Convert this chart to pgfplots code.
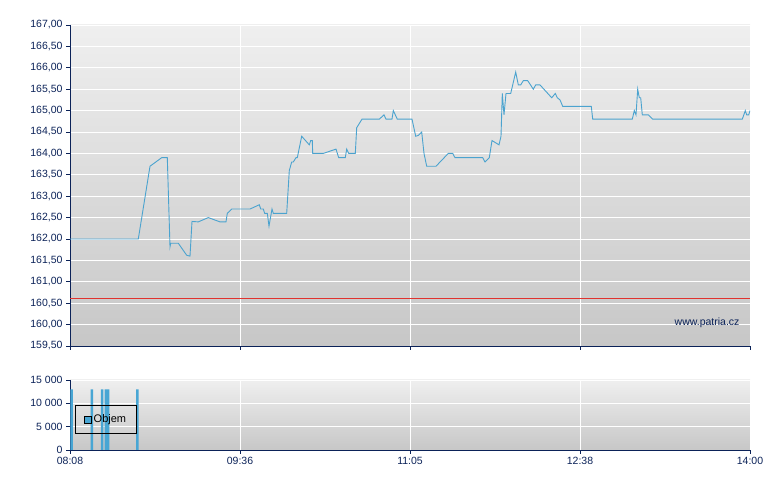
\documentclass[border=0pt]{standalone}
\usepackage{fontspec}
\setmainfont{Liberation Sans}
\usepackage{pgfplots}
\pgfplotsset{compat=1.18}
\definecolor{navy}{HTML}{0B2258}
\definecolor{lineblue}{HTML}{4BA3CF}
\definecolor{barblue}{HTML}{48A6D4}
\definecolor{refred}{HTML}{E0332F}
\definecolor{bgtop}{HTML}{EFEFEF}
\definecolor{bgbot}{HTML}{C7C7C7}

\begin{document}
\begin{tikzpicture}
\path (0pt,0pt) rectangle (780pt,490pt);
\pgfplotsset{
  chartbase/.style={
    scale only axis, width=680pt, xmin=0, xmax=680,
    axis lines*=left,
    axis line style={navy, line width=0.9pt},
    tick style={navy, line width=0.9pt},
    tick align=outside, major tick length=4pt,
    grid=major, major grid style={white, line width=0.9pt},
    axis background/.style={top color=bgtop, bottom color=bgbot},
    ticklabel style={font=\fontsize{10.5}{12}\selectfont, text=navy},
    /pgf/number format/assume math mode=true,
    xtick={0,170,340,510,680},
  },
}
% price
\begin{axis}[chartbase,
    at={(70pt,144pt)}, anchor=south west, height=321pt,
    ymin=159.5, ymax=167,
    ytick={159.5,160,160.5,161,161.5,162,162.5,163,163.5,164,164.5,165,165.5,166,166.5,167},
    yticklabel style={/pgf/number format/.cd, fixed, fixed zerofill, precision=2, use comma},
    xticklabels={},
]
\addplot[refred, line width=0.9pt] coordinates {(0,160.6) (680,160.6)};
\addplot[lineblue, line width=0.9pt] coordinates {
(0,162.0) (68.3,162.0) (80,163.7) (91.7,163.9) (97.3,163.9) (100,161.82)
(100.7,161.9) (108.3,161.9) (116.7,161.62) (120,161.6) (122,162.41) (128.3,162.4)
(138.3,162.5) (150,162.4) (156,162.4) (157.3,162.6) (161.7,162.7) (180,162.7)
(189.3,162.8) (190.7,162.7) (193.3,162.7) (194.7,162.6) (197.3,162.6) (199,162.3)
(202,162.7) (203.3,162.6) (216.7,162.6) (219.3,163.6) (221.7,163.8) (223.3,163.8)
(226,163.9) (227.3,163.9) (231.7,164.4) (239.3,164.2) (240.7,164.3) (242.3,164.3)
(242.7,164.0) (253.3,164.0) (266,164.1) (268.7,163.9) (275.3,163.9) (276.7,164.1)
(278.7,164.0) (285.3,164.0) (286.7,164.6) (292,164.8) (309.3,164.8) (314,164.9)
(316,164.8) (322,164.8) (323.3,165.0) (327.3,164.8) (342,164.8) (345.7,164.4)
(348.3,164.42) (351.7,164.5) (354,164.0) (356.7,163.7) (366,163.7) (378.3,164.0)
(382.7,164.0) (385,163.9) (412.7,163.9) (415,163.8) (419.3,163.9) (422,164.3)
(429,164.2) (431,164.4) (432.3,165.4) (434,164.9) (436,165.4) (440.7,165.4)
(445.7,165.9) (448.3,165.6) (450.7,165.6) (453.3,165.7) (457.7,165.7) (463.3,165.5)
(465.7,165.6) (470,165.6) (481.7,165.3) (485.3,165.4) (487.3,165.3) (490,165.25)
(492.7,165.1) (521.3,165.1) (522.7,164.8) (562.3,164.8) (564.3,165.0) (566,164.9)
(567.7,165.5) (569.3,165.3) (570.7,165.3) (572.3,164.9) (578.3,164.9) (582.7,164.8)
(672.3,164.8) (675.3,165.0) (676.7,164.9) (678.7,164.9) (680,165.0)
};
\node[anchor=east, font=\fontsize{10.5}{12}\selectfont, text=navy] at (axis cs:673,160.04) {www.patria.cz};
\end{axis}
% volume
\begin{axis}[chartbase,
    at={(70pt,40pt)}, anchor=south west, height=70pt,
    ymin=0, ymax=15000,
    ytick={0,5000,10000,15000},
    scaled y ticks=false,
    yticklabel style={/pgf/number format/.cd, fixed, 1000 sep={\ }},
    xticklabels={08:08,09:36,11:05,12:38,14:00},
    legend style={at={(0.0074,0.643)}, anchor=north west, draw=black, line width=0.8pt,
      fill=none, font=\fontsize{11}{12}\selectfont, inner xsep=8.5pt, inner ysep=7.5pt},
    legend cell align=left,
]
\addplot[ybar, bar width=2.5, fill=barblue, draw=none,
    legend image code/.code={\draw[fill=barblue, draw=black, line width=0.8pt] (0pt,-3.5pt) rectangle (7pt,3.5pt);}]
  coordinates {(1.5,13000) (21.8,13000) (32,13000) (35.8,13000) (38,13000) (67.3,13000)};
\legend{Objem}
\end{axis}
\end{tikzpicture}
\end{document}
